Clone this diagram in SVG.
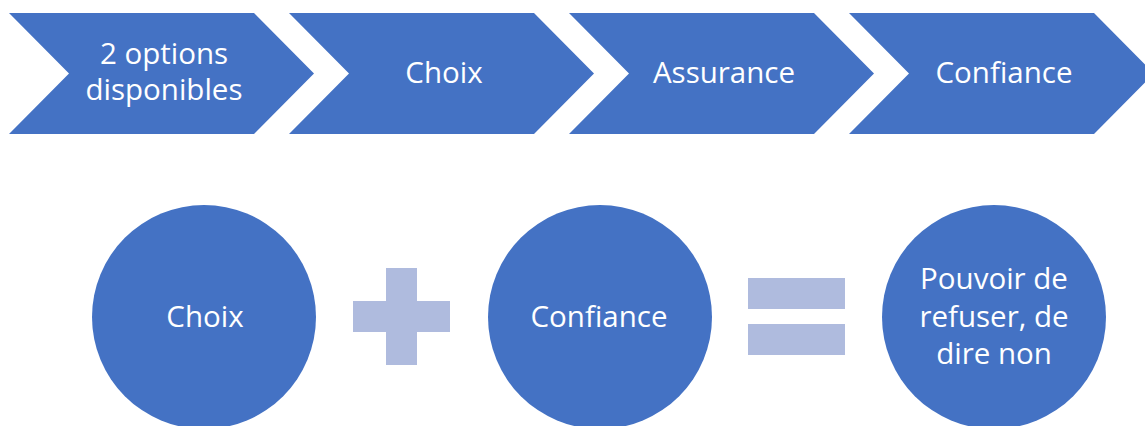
<svg xmlns="http://www.w3.org/2000/svg" width="1145" height="426" viewBox="0 0 1145 426">
<style>
.shape{fill:#4472C4;}
.op{fill:#AFBBDE;}
.t{font-family:"Open Sans","Noto Sans","Liberation Sans",sans-serif;font-size:29.5px;fill:#FFFFFF;text-anchor:middle;}
</style>
<rect width="1145" height="426" fill="#FFFFFF"/>
<g id="chevron1">
<polygon class="shape" points="9,13 254,13 314,73.5 254,134 9,134 69,73.5"/>
<text class="t" x="164" y="64">2 options</text>
<text class="t" x="164" y="100">disponibles</text>
</g>
<g id="chevron2">
<polygon class="shape" points="289,13 534,13 594,73.5 534,134 289,134 349,73.5"/>
<text class="t" x="444" y="83">Choix</text>
</g>
<g id="chevron3">
<polygon class="shape" points="569,13 814,13 874,73.5 814,134 569,134 629,73.5"/>
<text class="t" x="724" y="83">Assurance</text>
</g>
<g id="chevron4">
<polygon class="shape" points="849,13 1094,13 1154,73.5 1094,134 849,134 909,73.5"/>
<text class="t" x="1004" y="83">Confiance</text>
</g>
<g id="circle-choix">
<circle class="shape" cx="204" cy="317" r="112"/>
<text class="t" x="205" y="327">Choix</text>
</g>
<g id="plus">
<rect class="op" x="386" y="268" width="31" height="97"/>
<rect class="op" x="353" y="301" width="97" height="31"/>
</g>
<g id="circle-confiance">
<circle class="shape" cx="600" cy="317" r="112"/>
<text class="t" x="599" y="327">Confiance</text>
</g>
<g id="equals">
<rect class="op" x="748" y="278" width="97" height="31"/>
<rect class="op" x="748" y="324" width="97" height="31"/>
</g>
<g id="circle-pouvoir">
<circle class="shape" cx="994" cy="317" r="112"/>
<text class="t" x="994" y="289">Pouvoir de</text>
<text class="t" x="994" y="327">refuser, de</text>
<text class="t" x="994" y="364">dire non</text>
</g>
<g id="connectors"></g>
</svg>
